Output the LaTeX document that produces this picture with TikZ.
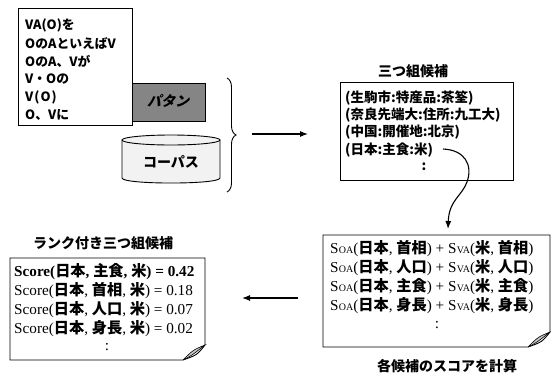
\documentclass[tikz,border=0pt]{standalone}
\usepackage{fontspec}
\setmainfont{Liberation Serif}
\newfontfamily\jp{Noto Sans CJK JP}
\newfontfamily\jpsl{Noto Sans CJK JP}[FakeSlant=0.25]
\usetikzlibrary{arrows.meta,decorations.pathreplacing}
\newcommand\J[1]{{\jp\bfseries #1}}
\newcommand\SOA{S\kern0.3pt{\fontsize{10}{10}\selectfont OA}}
\newcommand\SVA{S\kern0.3pt{\fontsize{10}{10}\selectfont VA}}
\newcommand\curlbox[4]{%
  \draw[line width=0.9pt] (#1,#2) -- (#3,#2) -- (#3,#4-15) .. controls (#3-8,#4-5) .. (#3-22,#4) -- (#1,#4) -- cycle;
  \filldraw[fill=gray!45,line width=0.6pt] (#3-22,#4) .. controls (#3-14,#4-4) .. (#3,#4-15) .. controls (#3-12,#4-10) .. (#3-22,#4);
}
\begin{document}
\begin{tikzpicture}[x=1pt,y=-1pt,
  box/.style={draw,line width=0.9pt,inner sep=0pt},
  row/.style={anchor=west,inner sep=0pt},
  pr/.style={row,font=\fontsize{12.8}{14}\selectfont},
  tr/.style={row,font=\fontsize{13.5}{15}\selectfont},
  sr/.style={row,font=\fontsize{15.2}{16}\selectfont},
  ttl/.style={inner sep=0pt,font=\fontsize{14}{16}\selectfont},
  arr/.style={line width=1.1pt,-{Latex[length=8pt,width=6pt]}}]
\useasboundingbox (0,0) rectangle (551,378);

% pattern (gray) box behind the pattern list
\node[box,fill=black!48,minimum width=80pt,minimum height=38pt] (pgray) at (165,102) {};
\node[ttl] (pgtxt) at (168,101) {{\jpsl\bfseries パタン}};
% pattern list box
\node[box,fill=white,minimum width=114pt,minimum height=117pt] (pat) at (75,66.5) {};
\node[pr] (p1) at (25,25) {\J{VA(O)を}};
\node[pr] (p2) at (25,43) {\J{OのAといえばV}};
\node[pr] (p3) at (25,61) {\J{OのA、Vが}};
\node[pr] (p4) at (25,79) {\J{V・Oの}};
\node[pr] (p5) at (25,97) {\J{V\kern1pt(\kern1pt O\kern1pt)}};
\node[pr] (p6) at (25,115) {\J{O、Vに}};

% corpus cylinder
\fill[gray!10] (122,140) -- (122,178) .. controls (122,184.7) and (220,184.7) .. (220,178) -- (220,140) -- cycle;
\draw[line width=0.9pt] (122,140) -- (122,178) .. controls (122,184.7) and (220,184.7) .. (220,178) -- (220,140);
\draw[line width=0.9pt,fill=gray!10] (171,140) ellipse [x radius=49pt, y radius=5pt];
\node[ttl] (corp) at (171,162) {\J{コーパス}};

% brace
\draw[line width=0.9pt,decorate,decoration={brace,amplitude=9pt}] (227,78) -- (227,192);
\coordinate (a1s) at (252,134);
\coordinate (a1e) at (308,134);
\draw[arr] (a1s) -- (a1e);

% triple candidates
\node[ttl] (ttl1) at (413,71) {\J{三つ組候補}};
\node[box,minimum width=173pt,minimum height=98pt] (trip) at (426.5,131) {};
\node[tr] (t1) at (345,98) {\J{(生駒市:特産品:茶筌)}};
\node[tr] (t2) at (345,115) {\J{(奈良先端大:住所:九工大)}};
\node[tr] (t3) at (345,132) {\J{(中国:開催地:北京)}};
\node[tr] (t4) at (345,150) {\J{(日本:主食:米)}};
\node[tr,anchor=center] (t5) at (424,167) {\J{:}};

% curved arrow
\coordinate (cs) at (443,149);
\coordinate (ce) at (448,229);
\draw[arr] (cs) .. controls (465,150) and (473,165) .. (467,182) .. controls (462,196) and (449,200) .. (ce);

% score computation box
\curlbox{323}{235}{550}{347}
\node[sr] (s1) at (330,249) {\SOA(\J{日本}, \J{首相}) + \SVA(\J{米}, \J{首相})};
\node[sr] (s2) at (330,268) {\SOA(\J{日本}, \J{人口}) + \SVA(\J{米}, \J{人口})};
\node[sr] (s3) at (330,287) {\SOA(\J{日本}, \J{主食}) + \SVA(\J{米}, \J{主食})};
\node[sr] (s4) at (330,306) {\SOA(\J{日本}, \J{身長}) + \SVA(\J{米}, \J{身長})};
\node[sr,anchor=center] (s5) at (437,325) {:};
\node[ttl] (cap) at (447,366) {\J{各候補のスコアを計算}};

% arrow to ranked list
\coordinate (a2s) at (298,298);
\coordinate (a2e) at (242,298);
\draw[arr] (a2s) -- (a2e);

% ranked list
\node[ttl] (ttl2) at (103,243) {\J{ランク付き三つ組候補}};
\curlbox{10}{258}{205}{360}
\node[sr] (r1) at (14,272) {\bfseries Score(\J{日本}, \J{主食}, \J{米}) = 0.42};
\node[sr] (r2) at (14,291) {Score(\J{日本}, \J{首相}, \J{米}) = 0.18};
\node[sr] (r3) at (14,310) {Score(\J{日本}, \J{人口}, \J{米}) = 0.07};
\node[sr] (r4) at (14,329) {Score(\J{日本}, \J{身長}, \J{米}) = 0.02};
\node[sr,anchor=center] (r5) at (107,347) {:};
\end{tikzpicture}
\end{document}
